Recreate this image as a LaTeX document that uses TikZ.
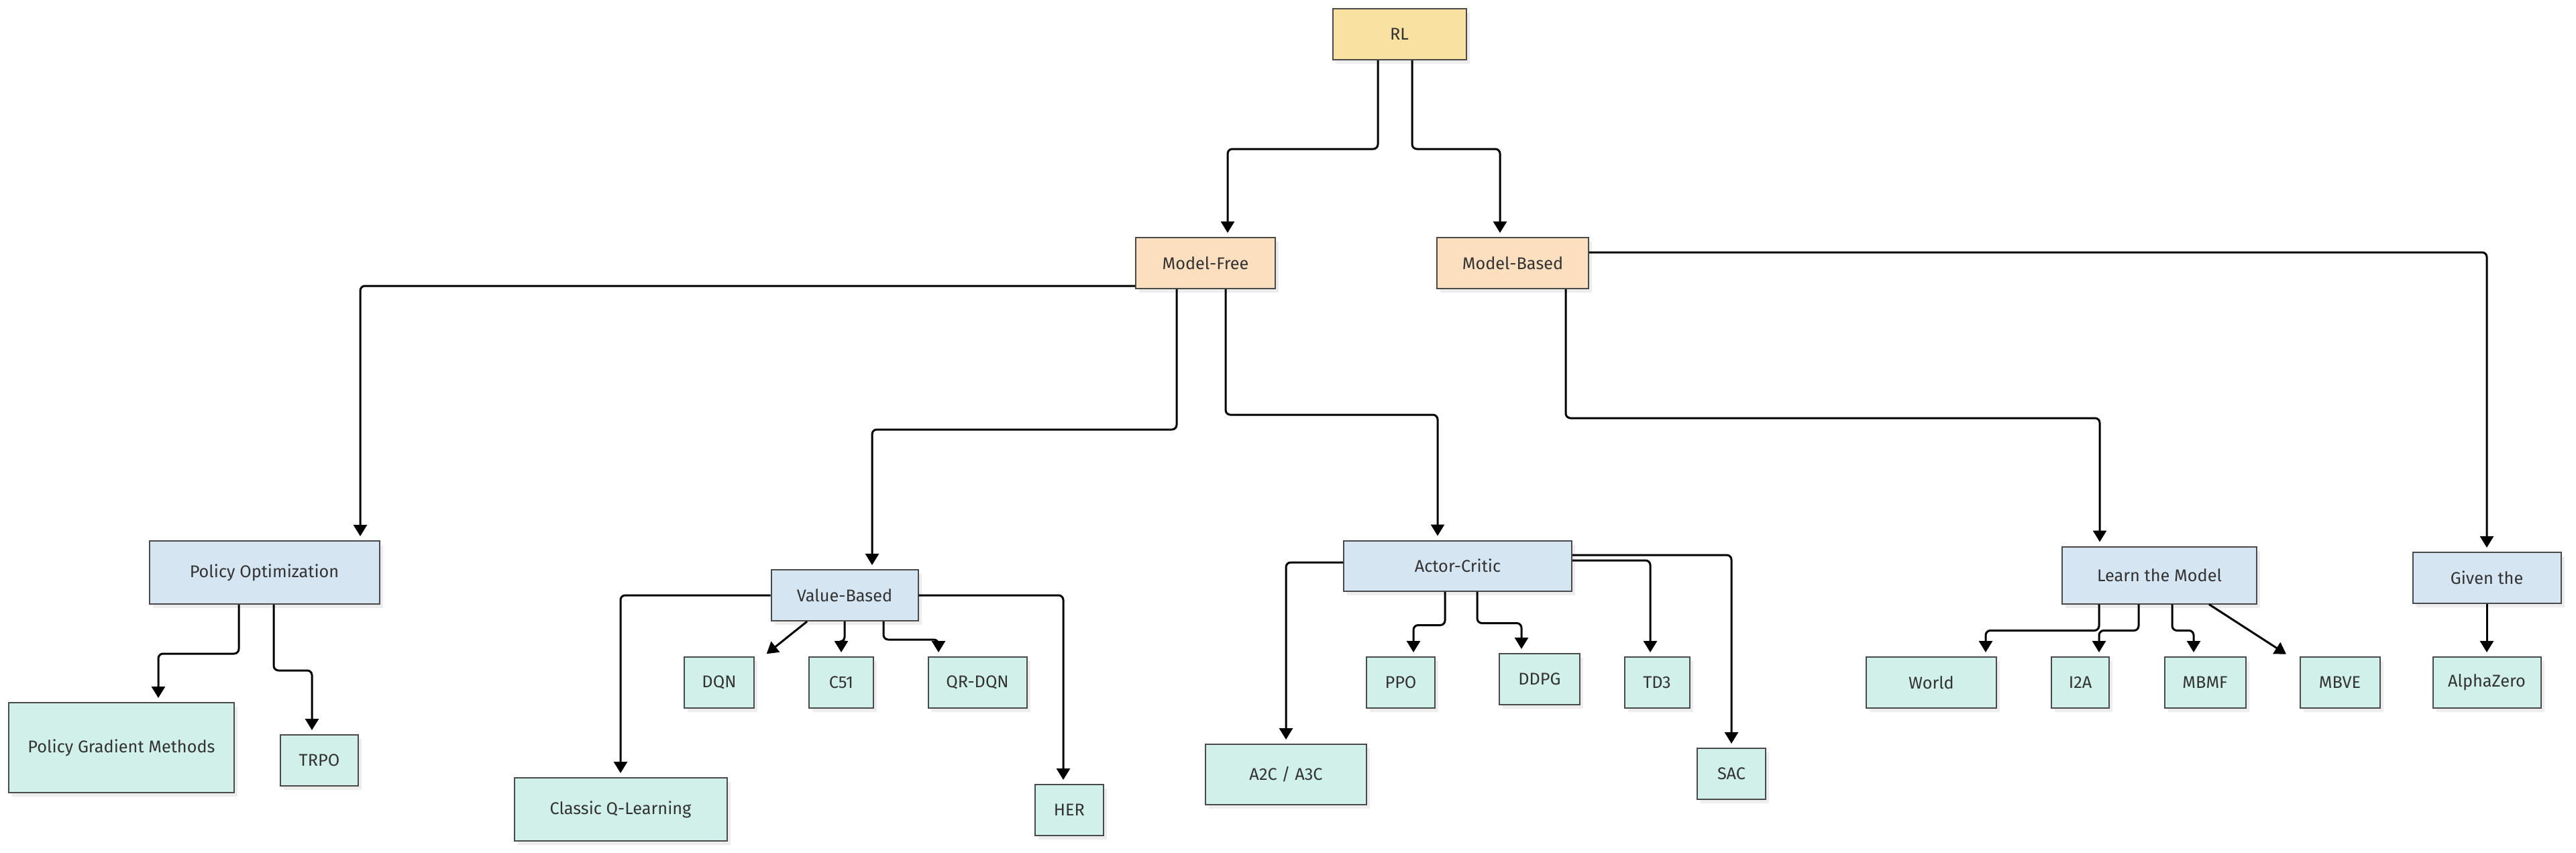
\documentclass[tikz,border=0pt]{standalone}
\usepackage{fontspec}
\setmainfont{Fira Sans}
\usetikzlibrary{calc, positioning, arrows.meta, shadows}
\definecolor{rootfill}{HTML}{F8E1A1}
\definecolor{familyfill}{HTML}{FCDFBF}
\definecolor{groupfill}{HTML}{D5E5F1}
\definecolor{algofill}{HTML}{D1F0E9}
\definecolor{boxline}{HTML}{4A4A4A}
\tikzstyle{box}=[rectangle, draw=boxline, line width=0.02cm, inner sep=0pt, text=black!80, font=\fontsize{7.2}{8}\selectfont, drop shadow={shadow xshift=0.05cm, shadow yshift=-0.06cm, fill=black!7, opacity=1}]
\tikzstyle{root box}=[box, fill=rootfill]
\tikzstyle{family box}=[box, fill=familyfill]
\tikzstyle{group box}=[box, fill=groupfill]
\tikzstyle{algo box}=[box, fill=algofill]
\tikzstyle{link}=[-{Triangle[width=0.2cm,length=0.17cm]}, line width=0.03cm, rounded corners=0.07cm, shorten >=0.06cm]

\begin{document}
\begin{tikzpicture}
\useasboundingbox (0,0) rectangle (38.4,-12.7);

			% Draw the root and the two families
			\node[root box, minimum width=1.99cm, minimum height=0.76cm] (RL) at (20.86,-0.51) {RL};
			\node[family box, minimum width=2.08cm, minimum height=0.76cm] (MF) at (17.97,-3.92) {Model-Free};
			\node[family box, minimum width=2.26cm, minimum height=0.76cm] (MB) at (22.55,-3.92) {Model-Based};

			% Draw the groups
			\foreach \name/\x/\y/\w/\h/\txt in {PO/3.94/8.53/3.43/0.94/{Policy Optimization}, VB/12.59/8.87/2.19/0.76/Value-Based, AC/21.73/8.43/3.40/0.75/Actor-Critic, LM/32.19/8.57/2.90/0.85/{Learn the Model}, GT/37.07/8.61/2.21/0.76/{Given the}}
			\node[group box, minimum width=\w cm, minimum height=\h cm] (\name) at (\x,-\y) {\txt};

			% Draw the algorithms
			\foreach \name/\x/\y/\w/\h/\txt in {PGM/1.81/11.14/3.36/1.34/{Policy Gradient Methods}, TRPO/4.76/11.33/1.16/0.76/TRPO, CQL/9.25/12.06/3.17/0.94/{Classic Q-Learning}, DQN/10.72/10.17/1.04/0.76/DQN, C51/12.54/10.17/0.96/0.76/C51, QRDQN/14.57/10.17/1.47/0.76/QR-DQN, HER/15.94/12.07/1.02/0.76/HER, A2C/19.17/11.54/2.40/0.90/{A2C / A3C}, PPO/20.88/10.17/1.02/0.76/PPO, DDPG/22.95/10.12/1.20/0.76/DDPG, TD3/24.70/10.17/0.97/0.76/TD3, SAC/25.81/11.53/1.02/0.76/SAC, World/28.79/10.17/1.94/0.76/World, I2A/31.01/10.17/0.86/0.76/I2A, MBMF/32.87/10.17/1.21/0.76/MBMF, MBVE/34.88/10.17/1.19/0.76/MBVE, AlphaZero/37.07/10.17/1.61/0.76/AlphaZero}
			\node[algo box, minimum width=\w cm, minimum height=\h cm] (\name) at (\x,-\y) {\txt};

			% Connect the root with the families
			\draw[link] ([xshift=-0.32cm]RL.south) -- ++(0,-1.32) -| ([xshift=0.33cm]MF.north);
			\draw[link] ([xshift=0.19cm]RL.south) -- ++(0,-1.32) -| ([xshift=-0.19cm]MB.north);

			% Connect the families with the groups
			\draw[link] ([yshift=-0.34cm]MF.west) -| ([xshift=1.43cm]PO.north);
			\draw[link] ([xshift=-0.43cm]MF.south) -- ++(0,-2.09) -| ([xshift=0.41cm]VB.north);
			\draw[link] ([xshift=0.30cm]MF.south) -- ++(0,-1.87) -| ([xshift=-0.30cm]AC.north);
			\draw[link] ([xshift=0.79cm]MB.south) -- ++(0,-1.92) -| ([xshift=-0.89cm]LM.north);
			\draw[link] ([yshift=0.16cm]MB.east) -| (GT.north);

			% Connect the groups with the algorithms
			\draw[link] ([xshift=-0.38cm]PO.south) -- ++(0,-0.73) -| ([xshift=0.55cm]PGM.north);
			\draw[link] ([xshift=0.14cm]PO.south) -- ++(0,-0.98) -| ([xshift=-0.11cm]TRPO.north);
			\draw[link] (VB.west) -| (CQL.north);
			\draw[link] (VB.east) -| ([xshift=-0.09cm]HER.north);
			\draw[link] ([xshift=-0.56cm]VB.south) -- ([xshift=0.66cm]DQN.north);
			\draw[link] (VB.south) -- ++(0,-0.30) -| (C51.north);
			\draw[link] ([xshift=0.58cm]VB.south) -- ++(0,-0.27) -| ([xshift=-0.58cm]QRDQN.north);
			\draw[link] ([yshift=0.05cm]AC.west) -| (A2C.north);
			\draw[link] ([yshift=0.16cm]AC.east) -| (SAC.north);
			\draw[link] ([yshift=0.08cm]AC.east) -| ([xshift=-0.10cm]TD3.north);
			\draw[link] ([xshift=-0.19cm]AC.south) -- ++(0,-0.50) -| ([xshift=0.19cm]PPO.north);
			\draw[link] ([xshift=0.29cm]AC.south) -- ++(0,-0.47) -| ([xshift=-0.27cm]DDPG.north);
			\draw[link] ([xshift=-0.90cm]LM.south) -- ++(0,-0.39) -| ([xshift=0.81cm]World.north);
			\draw[link] ([xshift=-0.31cm]LM.south) -- ++(0,-0.39) -| ([xshift=0.28cm]I2A.north);
			\draw[link] ([xshift=0.19cm]LM.south) -- ++(0,-0.39) -| ([xshift=-0.17cm]MBMF.north);
			\draw[link] ([xshift=0.74cm]LM.south) -- ([xshift=-0.75cm]MBVE.north);
			\draw[link] (GT.south) -- (AlphaZero.north);
\end{tikzpicture}
\end{document}
